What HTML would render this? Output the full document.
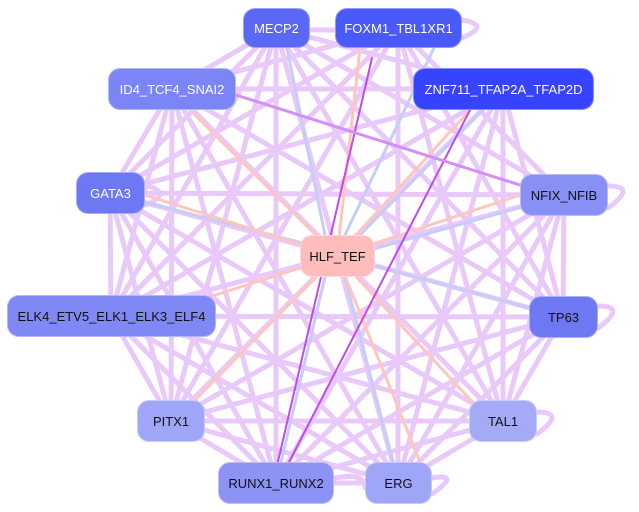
<!DOCTYPE html>
<html><head><meta charset="utf-8"><style>
body{margin:0;width:639px;height:512px;background:#fff;overflow:hidden}
svg{position:absolute;left:0;top:0}
.n{position:absolute;border-radius:12px;font-family:"Liberation Sans",sans-serif;font-size:13px;display:flex;align-items:center;justify-content:center;box-sizing:border-box;border:1px solid rgba(255,255,255,.4)}
.w{color:#fff}.d{color:#111}
</style></head><body>
<svg width="639" height="512" fill="none" stroke-linecap="round">
<g stroke="#e8c6fa" stroke-width="5" opacity="0.95">
<path d="M276 28L172 89M276 28L110 193M276 28L111 316M276 28L171 421M276 28L276 483M276 28L398 483M276 28L503 421M276 28L563 317M276 28L564 195M276 28L503 89"/>
<path d="M398 28L172 89M398 28L110 193M398 28L111 316M398 28L171 421M398 28L398 483M398 28L503 421M398 28L563 317M398 28L564 195"/>
<path d="M172 89L503 89M172 89L110 193M172 89L111 316M172 89L171 421M172 89L276 483M172 89L398 483M172 89L503 421M172 89L563 317"/>
<path d="M503 89L110 193M503 89L111 316M503 89L171 421M503 89L276 483M503 89L398 483M503 89L503 421M503 89L563 317"/>
<path d="M110 193L564 195M110 193L111 316M110 193L171 421M110 193L276 483M110 193L398 483M110 193L503 421M110 193L563 317"/>
<path d="M564 195L111 316M564 195L171 421M564 195L276 483M564 195L398 483M564 195L503 421M564 195L563 317"/>
<path d="M111 316L563 317M111 316L171 421M111 316L276 483M111 316L398 483M111 316L503 421"/>
<path d="M563 317L171 421M563 317L276 483M563 317L398 483M563 317L503 421"/>
<path d="M171 421L503 421M171 421L276 483M171 421L398 483M503 421L276 483M503 421L398 483M276 483L398 483"/>
<path d="M310 30L335 30M462 20q30 5 0 18M335 478q30 -6 30 10M432 478q30 -5 0 16M537 412q30 0 0 22M598 306q30 0 0 22M608 186q30 0 0 22M145 185q30 8 0 20"/>
</g>
<g stroke="#c8ccf8" stroke-width="3">
<path d="M287 48L325 235M434 48L345 235M110 193L310 245M564 195L370 250M563 317L375 266M276 483L325 277M398 483L345 277M503 89L360 235"/>
</g>
<g stroke="#ffc6bd" stroke-width="3">
<path d="M337 256L145 195M337 256L520 195M337 256L200 300M337 256L195 400M337 256L480 410M337 256L420 462M337 256L195 115M337 256L360 48M337 256L470 110"/>
</g>
<g stroke="#c049f2" stroke-width="2">
<path d="M372 58L276 470M470 110L285 470"/>
</g>
<path d="M236 95L520 185" stroke="#d58ef5" stroke-width="3"/>
</svg>
<div class="n w" style="left:243px;top:8px;width:67px;height:40px;background:#5b67f5">MECP2</div>
<div class="n w" style="left:335px;top:8px;width:127px;height:40px;background:#4a5af8">FOXM1_TBL1XR1</div>
<div class="n w" style="left:108px;top:68px;width:128px;height:42px;background:#7b85f5">ID4_TCF4_SNAI2</div>
<div class="n w" style="left:413px;top:68px;width:181px;height:42px;background:#3644ff">ZNF711_TFAP2A_TFAP2D</div>
<div class="n w" style="left:76px;top:172px;width:69px;height:42px;background:#6d78f3">GATA3</div>
<div class="n d" style="left:520px;top:174px;width:88px;height:42px;background:#8890f6">NFIX_NFIB</div>
<div class="n d" style="left:300px;top:235px;width:75px;height:42px;background:#ffbcbc">HLF_TEF</div>
<div class="n d" style="left:7px;top:295px;width:209px;height:42px;background:#8088f6">ELK4_ETV5_ELK1_ELK3_ELF4</div>
<div class="n d" style="left:529px;top:296px;width:69px;height:42px;background:#6e78f3">TP63</div>
<div class="n d" style="left:137px;top:400px;width:68px;height:42px;background:#a0a6f7">PITX1</div>
<div class="n d" style="left:469px;top:400px;width:68px;height:42px;background:#a5aaf7">TAL1</div>
<div class="n d" style="left:218px;top:462px;width:116px;height:42px;background:#8c93f5">RUNX1_RUNX2</div>
<div class="n d" style="left:365px;top:462px;width:67px;height:42px;background:#9fa5f7">ERG</div>
</body></html>
